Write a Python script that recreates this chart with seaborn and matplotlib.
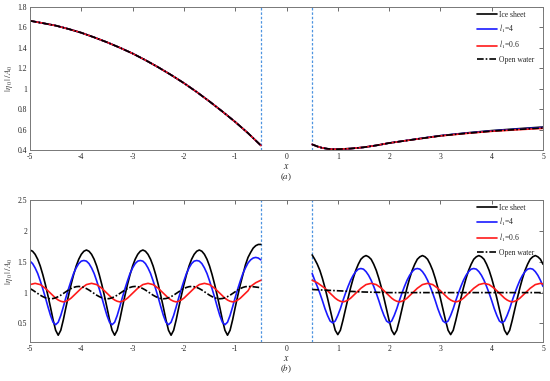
import numpy as np
import matplotlib
matplotlib.use("Agg")
import matplotlib.pyplot as plt
import seaborn as sns
from matplotlib.lines import Line2D

# ---------------- data : panel (a) ----------------
xa_left = [-5.0, -4.75, -4.5, -4.25, -4.0, -3.75, -3.5, -3.25, -3.0, -2.75, -2.5,
           -2.25, -2.0, -1.75, -1.5, -1.25, -1.0, -0.75, -0.5]
a_ice_left = [1.665, 1.642, 1.618, 1.585, 1.548, 1.503, 1.455, 1.402, 1.345, 1.280, 1.210,
              1.135, 1.055, 0.968, 0.875, 0.777, 0.675, 0.565, 0.445]
a_l4_left = [1.665, 1.642, 1.618, 1.585, 1.548, 1.503, 1.455, 1.402, 1.345, 1.280, 1.210,
             1.135, 1.055, 0.968, 0.875, 0.777, 0.675, 0.565, 0.445]
a_l06_left = [1.665, 1.642, 1.618, 1.585, 1.548, 1.503, 1.455, 1.402, 1.345, 1.280, 1.210,
              1.135, 1.055, 0.968, 0.875, 0.777, 0.675, 0.565, 0.445]
a_ow_left = [1.665, 1.642, 1.618, 1.585, 1.548, 1.503, 1.455, 1.402, 1.345, 1.280, 1.210,
             1.135, 1.055, 0.968, 0.875, 0.777, 0.675, 0.565, 0.445]

xa_right = [0.5, 0.6, 0.7, 0.8, 0.9, 1.0, 1.25, 1.5, 1.75, 2.0, 2.5, 3.0, 3.5, 4.0, 4.5, 5.0]
a_ice_right = [0.455, 0.435, 0.420, 0.412, 0.408, 0.408, 0.414, 0.426, 0.445, 0.468, 0.505,
               0.540, 0.567, 0.590, 0.608, 0.625]
a_l4_right = [0.455, 0.435, 0.420, 0.412, 0.408, 0.408, 0.414, 0.426, 0.445, 0.468, 0.505,
              0.540, 0.565, 0.587, 0.604, 0.620]
a_l06_right = [0.455, 0.435, 0.420, 0.412, 0.408, 0.408, 0.414, 0.426, 0.445, 0.468, 0.504,
               0.538, 0.562, 0.583, 0.598, 0.612]
a_ow_right = [0.455, 0.435, 0.420, 0.412, 0.408, 0.408, 0.414, 0.426, 0.445, 0.468, 0.504,
              0.539, 0.563, 0.585, 0.601, 0.616]

# ---------------- data : panel (b) ----------------
xb_left = np.linspace(-5.0, -0.5, 91)
xb_right = np.linspace(0.5, 5.0, 91)

b_ice_left = [
    1.69, 1.67, 1.62, 1.54, 1.43, 1.29, 1.13, 0.95, 0.76, 0.56, 0.39, 0.31, 0.39, 0.56, 0.76, 0.95, 1.13, 1.29, 1.43, 1.54, 1.62, 1.67,
    1.69, 1.67, 1.62, 1.54, 1.43, 1.29, 1.13, 0.95, 0.76, 0.56, 0.39, 0.31, 0.39, 0.56, 0.76, 0.95, 1.13, 1.29, 1.43, 1.54, 1.62, 1.67,
    1.69, 1.67, 1.62, 1.54, 1.43, 1.29, 1.13, 0.95, 0.76, 0.56, 0.39, 0.31, 0.39, 0.56, 0.76, 0.95, 1.13, 1.29, 1.43, 1.54, 1.62, 1.67,
    1.69, 1.67, 1.62, 1.54, 1.43, 1.29, 1.13, 0.95, 0.76, 0.56, 0.39, 0.31, 0.39, 0.56, 0.76, 0.95, 1.13, 1.29,
    1.45, 1.57, 1.65, 1.72, 1.76, 1.78, 1.78]
b_l4_left = [
    1.51, 1.47, 1.40, 1.31, 1.19, 1.06, 0.92, 0.77, 0.63, 0.52, 0.48, 0.52, 0.63, 0.77, 0.92, 1.06, 1.19, 1.31, 1.40, 1.47, 1.51,
    1.52, 1.51, 1.47, 1.40, 1.31, 1.19, 1.06, 0.92, 0.77, 0.63, 0.52, 0.48, 0.52, 0.63, 0.77, 0.92, 1.06, 1.19, 1.31, 1.40, 1.47, 1.51,
    1.52, 1.51, 1.47, 1.40, 1.31, 1.19, 1.06, 0.92, 0.77, 0.63, 0.52, 0.48, 0.52, 0.63, 0.77, 0.92, 1.06, 1.19, 1.31, 1.40, 1.47, 1.51,
    1.52, 1.51, 1.47, 1.40, 1.31, 1.19, 1.06, 0.92, 0.77, 0.63, 0.52, 0.48, 0.52, 0.63, 0.77, 0.92, 1.06, 1.19, 1.31, 1.40, 1.48,
    1.53, 1.56, 1.57, 1.56, 1.53]
b_l06_left = [
    1.13, 1.14,
    1.15, 1.14, 1.13, 1.10, 1.07, 1.03, 0.99, 0.95, 0.91, 0.88, 0.86, 0.85, 0.86, 0.88, 0.91, 0.95, 0.99, 1.03, 1.07, 1.10, 1.13, 1.14,
    1.15, 1.14, 1.13, 1.10, 1.07, 1.03, 0.99, 0.95, 0.91, 0.88, 0.86, 0.85, 0.86, 0.88, 0.91, 0.95, 0.99, 1.03, 1.07, 1.10, 1.13, 1.14,
    1.15, 1.14, 1.13, 1.10, 1.07, 1.03, 0.99, 0.95, 0.91, 0.88, 0.86, 0.85, 0.86, 0.88, 0.91, 0.95, 0.99, 1.03, 1.07, 1.10, 1.13, 1.14,
    1.15, 1.14, 1.13, 1.10, 1.07, 1.03, 0.99, 0.95, 0.91, 0.88, 0.86, 0.85, 0.86, 0.88, 0.91, 0.95, 0.99, 1.03,
    1.10, 1.13, 1.16, 1.18, 1.20]
b_ow_left = [
    1.065, 1.042, 1.014, 0.986, 0.958, 0.935, 0.916, 0.904, 0.900, 0.904, 0.916, 0.935, 0.958, 0.986, 1.014, 1.042, 1.065, 1.084, 1.096,
    1.100, 1.096, 1.084, 1.065, 1.042, 1.014, 0.986, 0.958, 0.935, 0.916, 0.904, 0.900, 0.904, 0.916, 0.935, 0.958, 0.986, 1.014, 1.042, 1.065, 1.084, 1.096,
    1.100, 1.096, 1.084, 1.065, 1.042, 1.014, 0.986, 0.958, 0.935, 0.916, 0.904, 0.900, 0.904, 0.916, 0.935, 0.958, 0.986, 1.014, 1.042, 1.065, 1.084, 1.096,
    1.100, 1.096, 1.084, 1.065, 1.042, 1.014, 0.986, 0.958, 0.935, 0.916, 0.904, 0.900, 0.904, 0.916, 0.935, 0.958, 0.986, 1.014, 1.042, 1.065, 1.084, 1.096,
    1.100, 1.098, 1.095, 1.090, 1.085, 1.080]

b_ice_right = [
    1.61,
    1.54, 1.46, 1.36, 1.23, 1.08, 0.91, 0.73, 0.55, 0.39, 0.32, 0.39, 0.55, 0.73, 0.91, 1.08, 1.23, 1.36, 1.46, 1.54, 1.58,
    1.60, 1.58, 1.54, 1.46, 1.36, 1.23, 1.08, 0.91, 0.73, 0.55, 0.39, 0.32, 0.39, 0.55, 0.73, 0.91, 1.08, 1.23, 1.36, 1.46, 1.54, 1.58,
    1.60, 1.58, 1.54, 1.46, 1.36, 1.23, 1.08, 0.91, 0.73, 0.55, 0.39, 0.32, 0.39, 0.55, 0.73, 0.91, 1.08, 1.23, 1.36, 1.46, 1.54, 1.58,
    1.60, 1.58, 1.54, 1.46, 1.36, 1.23, 1.08, 0.91, 0.73, 0.55, 0.39, 0.32, 0.39, 0.55, 0.73, 0.91, 1.08, 1.23, 1.36, 1.46, 1.54, 1.58,
    1.60, 1.58, 1.54, 1.46]
b_l4_right = [
    1.31, 1.20, 1.10, 0.99, 0.87, 0.74, 0.63, 0.54, 0.51, 0.54, 0.63, 0.74, 0.87, 0.99, 1.10, 1.20, 1.28, 1.34, 1.38,
    1.39, 1.38, 1.34, 1.28, 1.20, 1.10, 0.99, 0.87, 0.74, 0.63, 0.54, 0.51, 0.54, 0.63, 0.74, 0.87, 0.99, 1.10, 1.20, 1.28, 1.34, 1.38,
    1.39, 1.38, 1.34, 1.28, 1.20, 1.10, 0.99, 0.87, 0.74, 0.63, 0.54, 0.51, 0.54, 0.63, 0.74, 0.87, 0.99, 1.10, 1.20, 1.28, 1.34, 1.38,
    1.39, 1.38, 1.34, 1.28, 1.20, 1.10, 0.99, 0.87, 0.74, 0.63, 0.54, 0.51, 0.54, 0.63, 0.74, 0.87, 0.99, 1.10, 1.20, 1.28, 1.34, 1.38,
    1.39, 1.38, 1.34, 1.28, 1.20, 1.10]
b_l06_right = [
    1.20,
    1.18, 1.16, 1.13, 1.10, 1.07, 1.03, 0.99, 0.95, 0.91, 0.88, 0.86, 0.85, 0.86, 0.88, 0.91, 0.95, 0.99, 1.03, 1.07, 1.10, 1.13, 1.14,
    1.15, 1.14, 1.13, 1.10, 1.07, 1.03, 0.99, 0.95, 0.91, 0.88, 0.86, 0.85, 0.86, 0.88, 0.91, 0.95, 0.99, 1.03, 1.07, 1.10, 1.13, 1.14,
    1.15, 1.14, 1.13, 1.10, 1.07, 1.03, 0.99, 0.95, 0.91, 0.88, 0.86, 0.85, 0.86, 0.88, 0.91, 0.95, 0.99, 1.03, 1.07, 1.10, 1.13, 1.14,
    1.15, 1.14, 1.13, 1.10, 1.07, 1.03, 0.99, 0.95, 0.91, 0.88, 0.86, 0.85, 0.86, 0.88, 0.91, 0.95, 0.99, 1.03, 1.07, 1.10, 1.13, 1.14,
    1.15, 1.14]
xow_right = [0.5, 0.75, 1.0, 1.25, 1.5, 2.0, 3.0, 4.0, 5.0]
b_ow_right = [1.05, 1.04, 1.03, 1.02, 1.01, 1.00, 1.00, 1.00, 1.00]

edge_x = [-0.5, 0.5]
x_ticks = [-5, -4, -3, -2, -1, 0, 1, 2, 3, 4, 5]
ya_ticks = [0.4, 0.6, 0.8, 1.0, 1.2, 1.4, 1.6, 1.8]
ya_labels = ["0.4", "0.6", "0.8", "1", "1.2", "1.4", "1.6", "1.8"]
yb_ticks = [0.5, 1.0, 1.5, 2.0, 2.5]
yb_labels = ["0.5", "1", "1.5", "2", "2.5"]
legend_labels = ["Ice sheet", r"$l_1$=4", r"$l_1$=0.6", "Open water"]

# ---------------- style ----------------
sns.set_theme(style="white")
plt.rcParams["font.family"] = ["Liberation Serif", "DejaVu Serif"]
plt.rcParams["mathtext.fontset"] = "stix"
plt.rcParams["axes.unicode_minus"] = False

C_ICE, C_L4, C_L06, C_OW = "#000000", "#1a1aff", "#ff1a1a", "#000000"
LW = 1.2
EDGE_C = "#4d94e0"

fig = plt.figure(figsize=(5.5, 3.81), dpi=100)
ax1 = fig.add_axes([30 / 550, 1 - 150 / 381, 513 / 550, 143 / 381])
ax2 = fig.add_axes([30 / 550, 1 - 342 / 381, 513 / 550, 142 / 381])


def draw(ax, x, y, color, ls="-"):
    sns.lineplot(x=list(x), y=list(y), ax=ax, color=color, linewidth=LW,
                 linestyle=ls, estimator=None, sort=False, legend=False)


for ax, segs in [
    (ax1, [(xa_left, a_ice_left, a_l4_left, a_l06_left, xa_left, a_ow_left),
           (xa_right, a_ice_right, a_l4_right, a_l06_right, xa_right, a_ow_right)]),
    (ax2, [(xb_left, b_ice_left, b_l4_left, b_l06_left, xb_left, b_ow_left),
           (xb_right, b_ice_right, b_l4_right, b_l06_right, xow_right, b_ow_right)]),
]:
    for xs, ice, l4, l06, xo, ow in segs:
        draw(ax, xs, ice, C_ICE)
        draw(ax, xs, l4, C_L4)
        draw(ax, xs, l06, C_L06)
        draw(ax, xo, ow, C_OW, ls=(0, (4, 1.2, 1, 1.2)))
    for ex in edge_x:
        ax.axvline(ex, color=EDGE_C, lw=0.9, ls=(0, (2, 1.5)), zorder=1)

    ax.set_xlim(-5, 5)
    ax.set_xticks(x_ticks)
    ax.set_xticklabels([str(t) for t in x_ticks])
    ax.tick_params(direction="in", length=3, width=0.6, labelsize=5.5, pad=2,
                   top=True, right=True, colors="#555555", labelcolor="#222222")
    for sp in ax.spines.values():
        sp.set_color("#777777")
        sp.set_linewidth(0.7)
    ax.set_xlabel("$x$", fontsize=7, labelpad=1, color="#222222")
    ax.set_ylabel(r"$|\,\eta_0\,|\,/A_0$", fontsize=6.5, labelpad=2, color="#444444")

    handles = [Line2D([], [], color=C_ICE, lw=LW),
               Line2D([], [], color=C_L4, lw=LW),
               Line2D([], [], color=C_L06, lw=LW),
               Line2D([], [], color=C_OW, lw=LW, ls=(0, (4, 1.2, 1, 1.2)))]
    ax.legend(handles, legend_labels, loc="upper left",
              bbox_to_anchor=(0.871, 0.975), frameon=False, fontsize=5.5,
              handlelength=2.6, handletextpad=0.35, labelspacing=0.55,
              borderaxespad=0, borderpad=0)

ax1.set_ylim(0.4, 1.8)
ax1.set_yticks(ya_ticks)
ax1.set_yticklabels(ya_labels)
ax2.set_ylim(0.2, 2.5)
ax2.set_yticks(yb_ticks)
ax2.set_yticklabels(yb_labels)

ax1.text(0.5, -0.19, "($a$)", transform=ax1.transAxes, ha="center", va="center",
         fontsize=6.5, color="#222222")
ax2.text(0.5, -0.19, "($b$)", transform=ax2.transAxes, ha="center", va="center",
         fontsize=6.5, color="#222222")

fig.savefig("out.png", dpi=100)
